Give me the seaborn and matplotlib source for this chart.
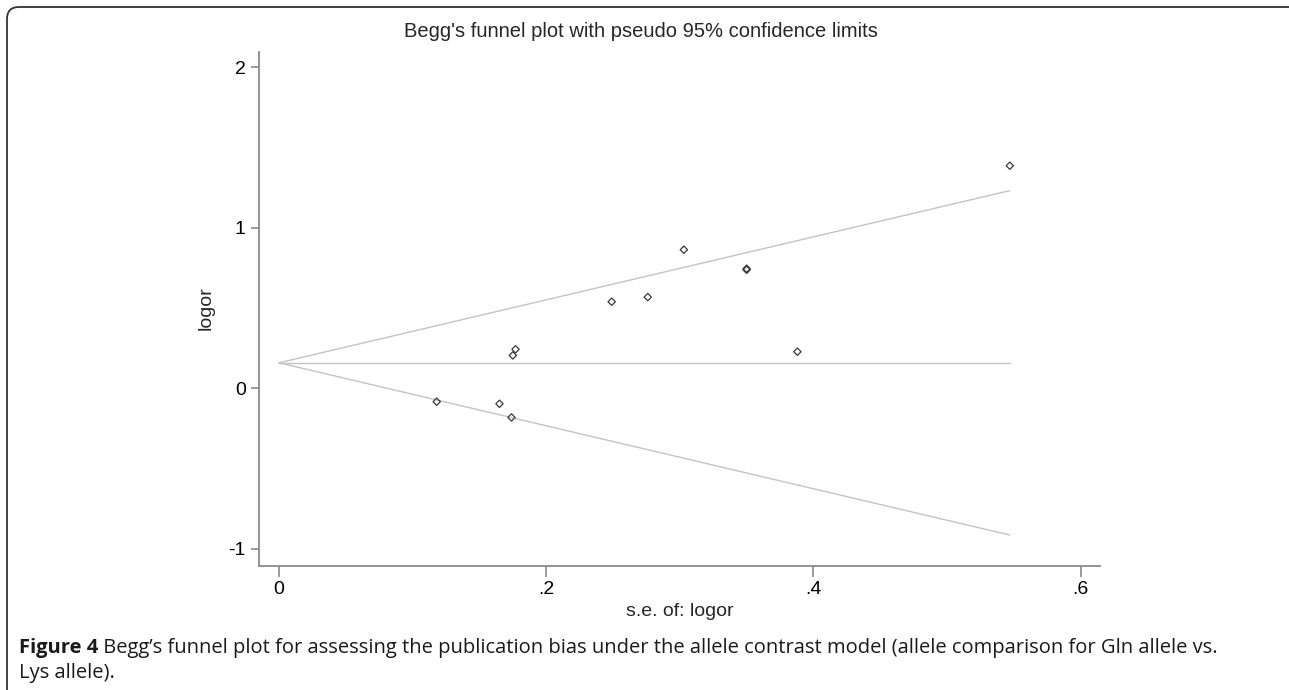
import matplotlib
matplotlib.use("Agg")
import matplotlib.pyplot as plt
import matplotlib.transforms as mtransforms
from matplotlib.patches import FancyBboxPatch
import pandas as pd
import seaborn as sns

# study estimates
se = [0.118, 0.165, 0.174, 0.175, 0.177, 0.249, 0.276, 0.303, 0.350, 0.350, 0.388, 0.547]
logor = [-0.083, -0.096, -0.181, 0.205, 0.243, 0.539, 0.568, 0.863, 0.738, 0.745, 0.228, 1.386]
pooled = 0.159

x_ticks = [0, 0.2, 0.4, 0.6]
x_tick_labels = ["0", ".2", ".4", ".6"]
y_ticks = [-1, 0, 1, 2]
y_tick_labels = ["-1", "0", "1", "2"]

title = "Begg's funnel plot with pseudo 95% confidence limits"
caption_bold = "Figure 4"
caption_line1 = (" Begg\u2019s funnel plot for assessing the publication bias under the allele "
                 "contrast model (allele comparison for Gln allele vs.")
caption_line2 = "Lys allele)."

df = pd.DataFrame({"se": se, "logor": logor})
se_max = max(se)
lines = pd.DataFrame({
    "se": [0, se_max],
    "lower": [pooled, pooled - 1.96 * se_max],
    "upper": [pooled, pooled + 1.96 * se_max],
    "pooled": [pooled, pooled],
})

sns.set_style("ticks")
plt.rcParams["font.family"] = ["Liberation Sans", "DejaVu Sans"]

W, H = 1289, 690
fig = plt.figure(figsize=(W / 100, H / 100), dpi=100)
ax = fig.add_axes([259 / W, 1 - 566 / H, (1100 - 259) / W, (566 - 52) / H])

line_col = "#c4c4c4"
for col in ["lower", "upper", "pooled"]:
    sns.lineplot(data=lines, x="se", y=col, ax=ax, color=line_col, linewidth=1.0)
sns.scatterplot(data=df, x="se", y="logor", ax=ax, marker="D", s=14,
                facecolor="none", edgecolor="#3a3a3a", linewidth=0.9, zorder=3)

ax.set_xlim(-0.015, 0.6145)
ax.set_ylim(-1.106, 2.094)
ax.set_xticks(x_ticks, x_tick_labels)
ax.set_yticks(y_ticks, y_tick_labels)
for s in ["top", "right"]:
    ax.spines[s].set_visible(False)
for s in ["left", "bottom"]:
    ax.spines[s].set_color("#8a8a8a")
    ax.spines[s].set_linewidth(1.3)
ax.tick_params(axis="x", direction="out", length=8, width=1.2, color="#8a8a8a",
               labelsize=14, pad=3, labelcolor="black")
ax.tick_params(axis="y", direction="out", length=5.5, width=1.2, color="#8a8a8a",
               labelsize=14, pad=4, labelcolor="black")
ax.set_xlabel("")
ax.set_ylabel("")

fig.text(641 / W, 1 - 37 / H, title, ha="center", va="baseline", fontsize=14.5)
fig.text(680 / W, 1 - 616 / H, "s.e. of: logor", ha="center", va="baseline", fontsize=14)
fig.text(206 / W, 1 - 308 / H, "logor", ha="center", va="center", rotation=90, fontsize=14)

# caption
cap_font = ["Open Sans", "DejaVu Sans"]
cap_size = 14.5
renderer = fig.canvas.get_renderer()
t = fig.text(19 / W, 1 - 653 / H, caption_bold, ha="left", va="baseline",
             fontsize=cap_size, fontweight="bold", family=cap_font, color="#1a1a1a")
bb = t.get_window_extent(renderer=renderer)
fig.text(bb.x1 / W, 1 - 653 / H, caption_line1, ha="left", va="baseline",
         fontsize=cap_size, family=cap_font, color="#1a1a1a")
fig.text(19 / W, 1 - 678 / H, caption_line2, ha="left", va="baseline",
         fontsize=cap_size, family=cap_font, color="#1a1a1a")

# rounded frame around the figure (right and bottom edges run off the image)
frame = FancyBboxPatch((7, -30), 1300, H - 7 + 30,
                       boxstyle="round,pad=0,rounding_size=12",
                       transform=mtransforms.IdentityTransform(),
                       facecolor="none", edgecolor="#333333", linewidth=1.3)
fig.patches.append(frame)

fig.savefig("out.png", dpi=100)
